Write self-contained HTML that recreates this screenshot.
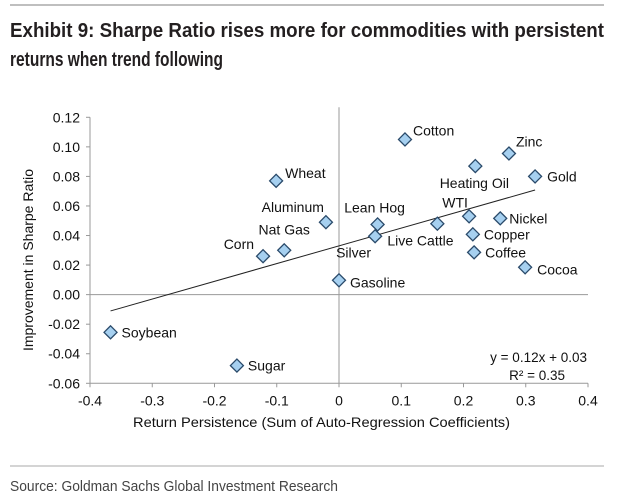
<!DOCTYPE html>
<html><head><meta charset="utf-8"><style>
html,body{margin:0;padding:0;background:#fff;}
svg{display:block;font-family:"Liberation Sans",Arial,sans-serif;}
</style></head><body>
<svg id="chart" width="640" height="502" viewBox="0 0 640 502">
<line x1="10" y1="5" x2="604" y2="5" stroke="#aaa" stroke-width="1.5"/>
<text x="10" y="37" font-size="20" font-weight="bold" fill="#231f20" textLength="594" lengthAdjust="spacingAndGlyphs">Exhibit 9: Sharpe Ratio rises more for commodities with persistent</text>
<text x="10" y="66" font-size="20" font-weight="bold" fill="#231f20" textLength="213" lengthAdjust="spacingAndGlyphs">returns when trend following</text>
<line x1="10" y1="466" x2="604" y2="466" stroke="#aaa" stroke-width="1"/>
<text x="10" y="491" font-size="15" fill="#444" textLength="328" lengthAdjust="spacingAndGlyphs">Source: Goldman Sachs Global Investment Research</text>
<g id="plot"></g>
</svg>
<script>
const names = ["Wheat","Corn","Nat Gas","Aluminum","Soybean","Sugar","Cotton","Zinc","Heating Oil","Gold","Lean Hog","Silver","Live Cattle","WTI","Nickel","Copper","Coffee","Cocoa","Gasoline"];
const xVals = [-0.101,-0.122,-0.088,-0.021,-0.367,-0.164,0.106,0.273,0.219,0.315,0.062,0.058,0.158,0.209,0.259,0.215,0.217,0.299,0.0];
const yVals = [0.077,0.026,0.030,0.049,-0.0255,-0.048,0.105,0.0955,0.087,0.080,0.0475,0.0395,0.048,0.053,0.0516,0.0408,0.0286,0.0185,0.0097];
const xTicks = [-0.4,-0.3,-0.2,-0.1,0,0.1,0.2,0.3,0.4];
const xTickLabels = ["-0.4","-0.3","-0.2","-0.1","0","0.1","0.2","0.3","0.4"];
const yTicks = [-0.06,-0.04,-0.02,0,0.02,0.04,0.06,0.08,0.10,0.12];
const yTickLabels = ["-0.06","-0.04","-0.02","0.00","0.02","0.04","0.06","0.08","0.10","0.12"];
const trendSlope = 0.12, trendIntercept = 0.033;
const trendRange = [-0.367, 0.315];

// label offsets (style, not data): [dx, dy, anchor]
const labelPos = {"Wheat":[9,-3,"start"],"Corn":[-9,-7,"end"],"Nat Gas":[0,-16,"middle"],"Aluminum":[-2,-10,"end"],"Soybean":[11,5,"start"],"Sugar":[11,5,"start"],"Cotton":[8,-4,"start"],"Zinc":[7,-7,"start"],"Heating Oil":[-1,22,"middle"],"Gold":[12,5,"start"],"Lean Hog":[-3,-12,"middle"],"Silver":[-4,21,"end"],"Live Cattle":[-50,22,"start"],"WTI":[-14,-9,"middle"],"Nickel":[9,5,"start"],"Copper":[11,5,"start"],"Coffee":[11,5,"start"],"Cocoa":[12,7,"start"],"Gasoline":[11,7,"start"]};

const X0=90,X1=588,Y0=383.3,Y1=117.3;
const xs = v => X0 + (v+0.4)/0.8*(X1-X0);
const ys = v => Y0 - (v+0.06)/0.18*(Y0-Y1);
const NS="http://www.w3.org/2000/svg";
const g=document.getElementById('plot');
function mk(t,a,p){const e=document.createElementNS(NS,t);for(const k in a)e.setAttribute(k,a[k]);(p||g).appendChild(e);return e;}

let e=mk('line',{x1:X0,x2:X1,y1:ys(0),y2:ys(0),stroke:'#999','stroke-width':1});


e=mk('line',{x1:xs(0),x2:xs(0),y1:Y1-10,y2:Y0,stroke:'#999','stroke-width':1});


e=mk('line',{x1:X0,x2:X0,y1:Y1,y2:Y0,stroke:'#999','stroke-width':1});


e=mk('line',{x1:X0,x2:X1,y1:Y0,y2:Y0,stroke:'#999','stroke-width':1});



yTicks.forEach((v,i)=>{
  const t=mk('line',{x1:X0-4,x2:X0,y1:ys(v),y2:ys(v),stroke:'#999'});
  
  
  const l=mk('text',{x:X0-10,y:ys(v)+5,'font-size':14,'text-anchor':'end',fill:'#111'});
  l.textContent=yTickLabels[i];
  
  
});
xTicks.forEach((v,i)=>{
  const t=mk('line',{x1:xs(v),x2:xs(v),y1:Y0,y2:Y0+4,stroke:'#999'});
  
  
  const l=mk('text',{x:xs(v),y:Y0+22,'font-size':14,'text-anchor':'middle',fill:'#111'});
  l.textContent=xTickLabels[i];
  
  
});

e=mk('text',{x:133,y:427,'font-size':14,fill:'#111',textLength:377,lengthAdjust:'spacingAndGlyphs'});
e.textContent='Return Persistence (Sum of Auto-Regression Coefficients)';


e=mk('text',{x:0,y:0,'font-size':14,'text-anchor':'middle',fill:'#111',transform:'translate(33,260) rotate(-90)'});
e.textContent='Improvement in Sharpe Ratio';



e=mk('line',{x1:xs(trendRange[0]),y1:ys(trendSlope*trendRange[0]+trendIntercept),x2:xs(trendRange[1]),y2:ys(trendSlope*trendRange[1]+trendIntercept),stroke:'#222','stroke-width':1});



names.forEach((n,i)=>{
  const cx=xs(xVals[i]),cy=ys(yVals[i]);
  const p=mk('path',{d:`M${cx} ${cy-6.5}L${cx+6.5} ${cy}L${cx} ${cy+6.5}L${cx-6.5} ${cy}Z`,fill:'#a6d0f0',stroke:'#2a4a6a','stroke-width':1.3});
  
  
  const o=labelPos[n]||[9,4,'start'];
  const l=mk('text',{x:cx+o[0],y:cy+o[1],'font-size':14,'text-anchor':o[2],fill:'#111'});
  l.textContent=n;
  
  
});

e=mk('text',{x:587,y:362,'font-size':13.5,'text-anchor':'end',fill:'#111'});
e.textContent='y = 0.12x + 0.03';


e=mk('text',{x:565,y:380,'font-size':13.5,'text-anchor':'end',fill:'#111'});
e.textContent='R² = 0.35';


</script>
</body></html>
